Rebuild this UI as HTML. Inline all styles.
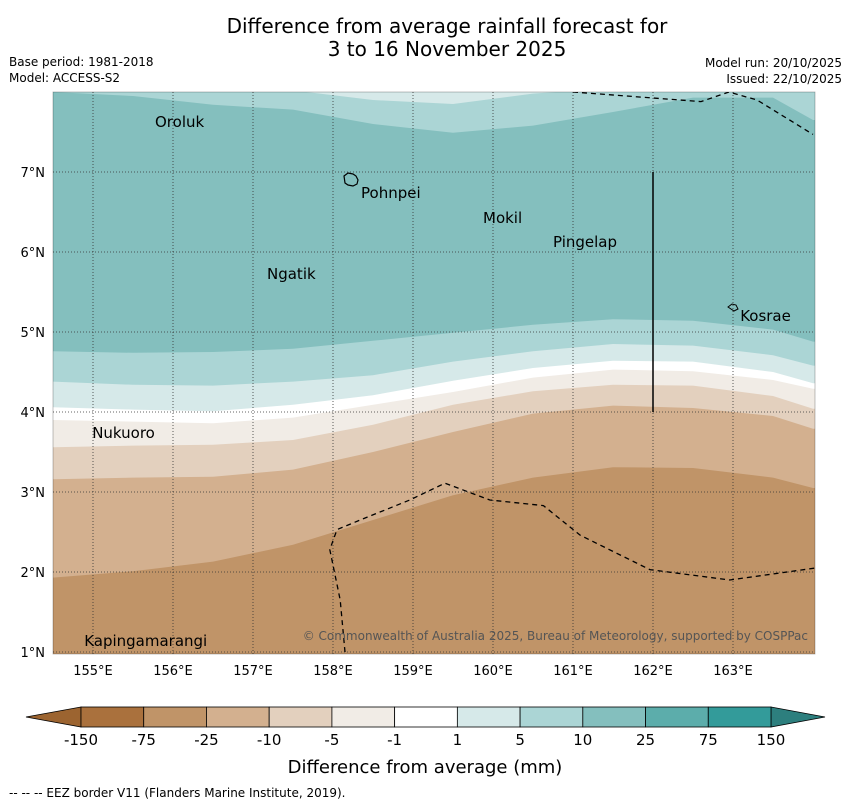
<!DOCTYPE html>
<html><head><meta charset="utf-8"><style>
body{margin:0;background:#fff;font-family:"DejaVu Sans","Liberation Sans",sans-serif}
</style></head><body>
<svg width="850" height="804" xmlns="http://www.w3.org/2000/svg" font-family="DejaVu Sans, Liberation Sans, sans-serif">
<text x="447" y="33" font-size="20" text-anchor="middle">Difference from average rainfall forecast for</text>
<text x="447" y="56" font-size="20" text-anchor="middle">3 to 16 November 2025</text>
<text x="9" y="66" font-size="12">Base period: 1981-2018</text>
<text x="9" y="82" font-size="12">Model: ACCESS-S2</text>
<text x="842" y="67" font-size="12" text-anchor="end">Model run: 20/10/2025</text>
<text x="842" y="83" font-size="12" text-anchor="end">Issued: 22/10/2025</text>
<g id="map"></g>
<g id="cbar"></g>
<text x="425" y="773" font-size="18" text-anchor="middle">Difference from average (mm)</text>
<text x="9" y="797" font-size="12">--  --  -- EEZ border V11 (Flanders Marine Institute, 2019).</text>
</svg>
<script>
const NS="http://www.w3.org/2000/svg";
const lons=[154.5,155.5,156.5,157.5,158.5,159.5,160.5,161.5,162.5,163.5,164.0];
const bTop2=[8.05,8.05,8.05,8.02,7.9,7.85,7.98,8.05,8.05,8.05,8.05];
const bTop=[8.0,7.95,7.84,7.78,7.6,7.49,7.58,7.75,7.93,7.93,7.65];
const b1=[4.76,4.74,4.75,4.79,4.89,4.99,5.09,5.16,5.14,5.03,4.88];
const b2=[4.38,4.34,4.33,4.38,4.46,4.63,4.76,4.85,4.83,4.71,4.58];
const b3=[4.06,4.03,4.01,4.09,4.21,4.39,4.55,4.64,4.63,4.50,4.36];
const b4=[3.90,3.88,3.86,3.93,4.09,4.25,4.43,4.53,4.51,4.40,4.29];
const b5=[3.56,3.58,3.59,3.65,3.84,4.09,4.26,4.34,4.33,4.20,4.04];
const b6=[3.16,3.18,3.19,3.28,3.50,3.75,3.98,4.08,4.05,3.95,3.79];
const b7=[1.93,2.01,2.13,2.34,2.65,2.96,3.18,3.31,3.30,3.18,3.05];
const levels=["-150","-75","-25","-10","-5","-1","1","5","10","25","75","150"];
const colors=["#aa713d","#c09468","#d3b08f","#e3d0be","#f1ece6","#ffffff","#d6e9e9","#abd5d5","#84bfbe","#5cadab","#339b9a"];
const xTicks=[155,156,157,158,159,160,161,162,163];
const yTicks=[1,2,3,4,5,6,7];
const islands=[["Oroluk",155.775,7.56],["Pohnpei",158.35,6.675],["Mokil",159.875,6.36],["Pingelap",160.75,6.06],["Ngatik",157.175,5.66],["Kosrae",163.09,5.14],["Nukuoro",154.99,3.675],["Kapingamarangi",154.89,1.075]];
const eezBottom=[[158.15,1.0],[158.09,1.65],[157.96,2.28],[158.05,2.53],[158.34,2.65],[158.96,2.9],[159.4,3.11],[159.96,2.9],[160.63,2.83],[161.09,2.46],[161.96,2.03],[162.96,1.9],[164.03,2.05]];
const eezTop=[[161.0,8.0],[162.6,7.88],[162.95,8.0],[163.3,7.9],[164.0,7.47]];
const X=lon=>53+(lon-154.5)*80, Y=lat=>92+(8-lat)*80;
const map=document.getElementById('map');
function mk(tag,attrs,parent){const e=document.createElementNS(NS,tag);for(const k in attrs)e.setAttribute(k,attrs[k]);parent.appendChild(e);return e;}
const defs=mk('defs',{},map);const cp=mk('clipPath',{id:'clip'},defs);mk('rect',{x:53,y:92,width:762,height:562},cp);
const g=mk('g',{'clip-path':'url(#clip)'},map);
const base=mk('rect',{x:53,y:92,width:762,height:562,fill:colors[1]},g);


const bands=[[b7,2],[b6,3],[b5,4],[b4,5],[b3,6],[b2,7],[b1,8],[bTop,7],[bTop2,6]];
bands.forEach(([b,ci],i)=>{
 let pts=lons.map((l,j)=>X(l)+","+Y(b[j])).join(" ");
 pts+=" "+X(164.1)+","+Y(b[b.length-1])+" "+X(164.1)+",80 "+X(154.4)+",80 "+X(154.4)+","+Y(b[0]);
 const p=mk('polygon',{points:pts,fill:colors[ci]},g);
 
 
});
xTicks.forEach(t=>{const l=mk('line',{x1:X(t),x2:X(t),y1:92,y2:654,stroke:'#333','stroke-width':0.8,'stroke-dasharray':'1,2'},g);
 
 const tx=mk('text',{x:X(t),y:675,'font-size':13,'text-anchor':'middle'},map);tx.textContent=t+"°E";
 });
yTicks.forEach(t=>{const l=mk('line',{x1:53,x2:815,y1:Y(t),y2:Y(t),stroke:'#333','stroke-width':0.8,'stroke-dasharray':'1,2'},g);
 
 const tx=mk('text',{x:45,y:Y(t)+5,'font-size':13,'text-anchor':'end'},map);tx.textContent=t+"°N";
 });
[eezBottom,eezTop].forEach(a=>{const p=mk('polyline',{points:a.map(q=>X(q[0])+","+Y(q[1])).join(" "),fill:'none',stroke:'#000','stroke-width':1.3,'stroke-dasharray':'5,4'},g);
 });
const vl=mk('line',{x1:X(162),x2:X(162),y1:Y(7),y2:Y(4),stroke:'#000','stroke-width':1.5},g);

const pohn=mk('path',{d:'M344,176 l4,-3 l5,1 l3,2 l2,4 l-1,4 l-4,2 l-5,-1 l-3,-2 z',fill:'none',stroke:'#000','stroke-width':1.2},g);

const kos=mk('path',{d:'M728,307 l4,-3 l4,1 l2,4 l-4,2 z',fill:'none',stroke:'#000','stroke-width':1},g);

islands.forEach(s=>{const t=mk('text',{x:X(s[1]),y:Y(s[2]),'font-size':15},g);t.textContent=s[0];
 });
const cr=mk('text',{x:808,y:640,'font-size':12,'text-anchor':'end',fill:'#555'},g);cr.textContent="© Commonwealth of Australia 2025, Bureau of Meteorology, supported by COSPPac";

const fr=mk('rect',{x:53,y:92,width:762,height:562,fill:'none',stroke:'#000','stroke-width':0.8,'stroke-opacity':0.3},map);

const cb=document.getElementById('cbar');const cx0=81,cw=(771-81)/11,cy=707,ch=20;
const la=mk('polygon',{points:`${cx0},${cy} 26,${cy+ch/2} ${cx0},${cy+ch}`,fill:'#9c6430',stroke:'#000','stroke-width':0.8},cb);

const ra=mk('polygon',{points:`771,${cy} 825,${cy+ch/2} 771,${cy+ch}`,fill:'#2d7f7e',stroke:'#000','stroke-width':0.8},cb);

colors.forEach((c,i)=>{const r=mk('rect',{x:cx0+i*cw,y:cy,width:cw,height:ch,fill:c,stroke:'#000','stroke-width':0.8},cb);
 });
levels.forEach((v,i)=>{const t=mk('text',{x:cx0+i*cw,y:745,'font-size':15,'text-anchor':'middle'},cb);t.textContent=v;
 });
</script>
</body></html>
